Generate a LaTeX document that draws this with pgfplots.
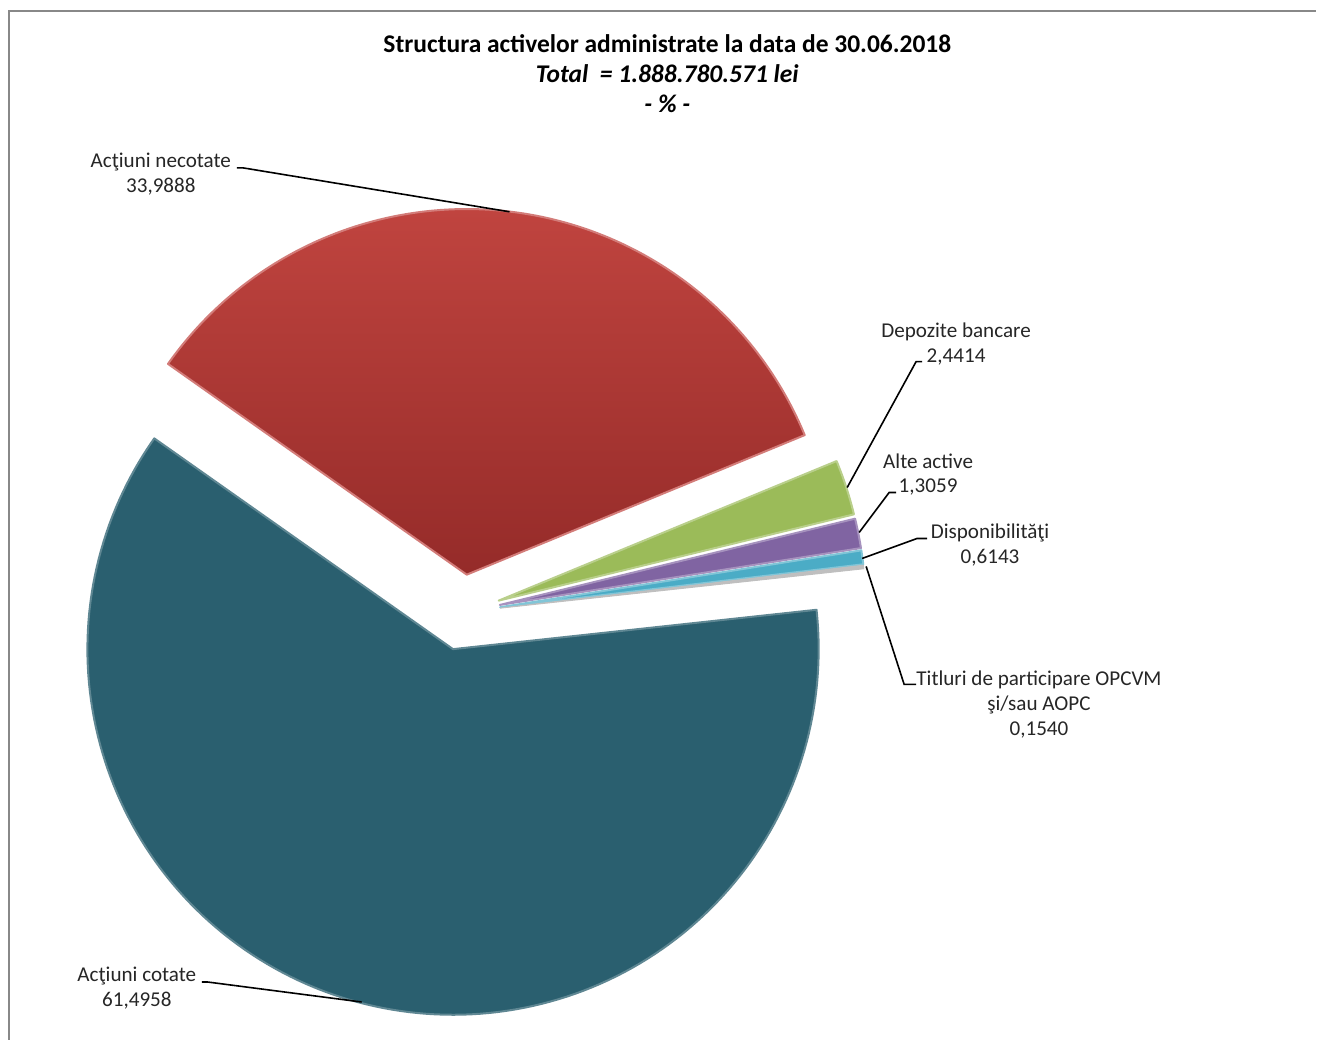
\documentclass[border=0pt]{standalone}
\usepackage{pgfplots}
\pgfplotsset{compat=1.18}
\usepackage{pgfplotstable}
\usepackage{fontspec}
\setmainfont{Carlito}
\definecolor{cRed}{HTML}{C0443F}
\definecolor{cRedD}{HTML}{952B29}
\definecolor{cBlue}{HTML}{2A5F6F}
\definecolor{cGreen}{HTML}{9BBB59}
\definecolor{cPurple}{HTML}{8064A2}
\definecolor{cCyan}{HTML}{4BACC6}
\definecolor{cGray}{HTML}{BFBFBF}
\definecolor{cFrame}{HTML}{888888}
\definecolor{cText}{HTML}{262626}

\pgfplotstableread{
key value
necotate 33.9888
depozite 2.4414
alte 1.3059
disponibilitati 0.6143
titluri 0.1540
cotate 61.4958
}\piedata

\newcommand\getv[2]{\pgfplotstablegetelem{#1}{value}\of\piedata\pgfmathsetmacro#2{\pgfplotsretval}}
\getv{0}{\vA}\getv{1}{\vB}\getv{2}{\vC}\getv{3}{\vD}\getv{4}{\vE}\getv{5}{\vF}
\pgfmathsetmacro\aO{144.8}
\pgfmathsetmacro\aA{\aO-3.6*\vA}
\pgfmathsetmacro\aB{\aA-3.6*\vB}
\pgfmathsetmacro\aC{\aB-3.6*\vC}
\pgfmathsetmacro\aD{\aC-3.6*\vD}
\pgfmathsetmacro\aE{\aD-3.6*\vE}
\pgfmathsetmacro\aF{\aE-3.6*\vF}

% centre (px, y up), radius, explode
\def\cx{463}\def\cy{428}\def\R{366}\def\ex{38}

\newcommand\slice[3]{%
 \pgfmathsetmacro\midang{(#1+#2)/2}%
 \pgfmathsetmacro\ax{\cx+\ex*cos(\midang)}%
 \pgfmathsetmacro\ay{\cy+\ex*sin(\midang)}%
 \edef\temp{\noexpand\addplot[#3, domain=#2:#1, samples=160] ({\ax+\R*cos(x)},{\ay+\R*sin(x)}) -- (axis cs:\ax,\ay) -- cycle;}%
 \temp}

\begin{document}%
\begin{tikzpicture}[
  lbl/.style={font=\fontsize{10.6}{12.5}\selectfont, text=cText, align=center, inner sep=0pt},
  ld/.style={draw=black, line width=0.8bp},
]
\begin{axis}[
  width=658.5bp, height=520.5bp, scale only axis,
  xmin=0, xmax=1317, ymin=0, ymax=1041,
  hide axis, clip=false,
  every axis plot/.append style={line join=round},
]
\path (axis cs:0,0) rectangle (axis cs:1317,1041);
\draw[cFrame, line width=1.3bp] (axis cs:9,0) -- (axis cs:9,1030) -- (axis cs:1317,1030);

\slice{\aO}{\aA}{top color=cRed, bottom color=cRedD, draw=cRed!70!white, line width=1bp}
\slice{\aA}{\aB}{fill=cGreen, draw=cGreen!70!white, line width=1bp}
\slice{\aB}{\aC}{fill=cPurple, draw=cPurple!70!white, line width=1bp}
\slice{\aC}{\aD}{fill=cCyan, draw=cCyan!70!white, line width=1bp}
\slice{\aD}{\aE}{fill=cGray, draw=cGray, line width=0.5bp}
\slice{\aE}{\aF}{fill=cBlue, draw=cBlue!75!white, line width=1bp}

% title
\node[font=\fontsize{12.8}{15}\selectfont\bfseries, align=center, text=black] at (axis cs:668,967)
  {Structura activelor administrate la data de 30.06.2018\\\itshape Total\ \ = 1.888.780.571 lei\\\itshape - \% -};

% labels
\node[lbl] at (axis cs:161,866.5) {Acţiuni necotate\\33,9888};
\draw[ld] (axis cs:237,873) -- (axis cs:243,873) -- (axis cs:510,829);
\node[lbl] at (axis cs:957,696.5) {Depozite bancare\\2,4414};
\draw[ld] (axis cs:923,679) -- (axis cs:917,679) -- (axis cs:848,553);
\node[lbl] at (axis cs:929,566) {Alte active\\1,3059};
\draw[ld] (axis cs:897,548) -- (axis cs:890,548) -- (axis cs:860,508);
\node[lbl] at (axis cs:991,495.5) {Disponibilităţi\\0,6143};
\draw[ld] (axis cs:928,502) -- (axis cs:918,502) -- (axis cs:863,482);
\node[lbl] at (axis cs:1040,336) {Titluri de participare OPCVM\\şi/sau AOPC\\0,1540};
\draw[ld] (axis cs:917,356) -- (axis cs:905,356) -- (axis cs:867,474);
\node[lbl] at (axis cs:137,51.5) {Acţiuni cotate\\61,4958};
\draw[ld] (axis cs:202,58) -- (axis cs:208,58) -- (axis cs:362,38);
\end{axis}
\end{tikzpicture}%
\end{document}
